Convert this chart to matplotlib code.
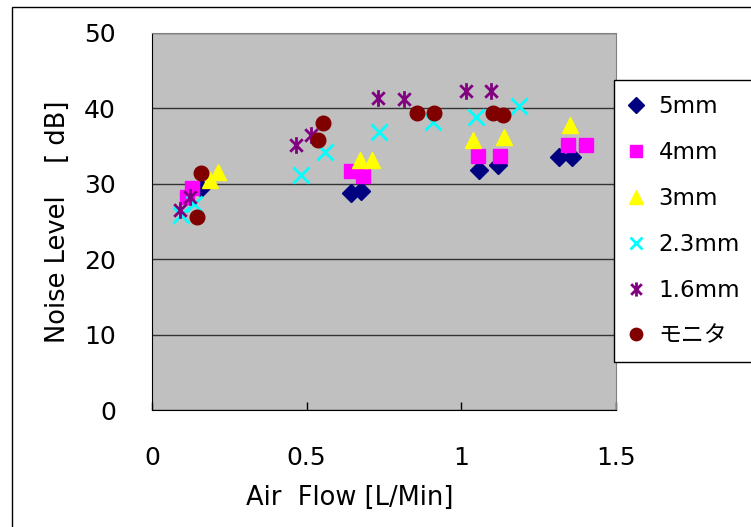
import numpy as np
import matplotlib.pyplot as plt
from matplotlib.path import Path
from matplotlib.patches import Rectangle

plt.rcParams['font.family'] = ['DejaVu Sans', 'Noto Sans CJK JP']

# 測定データ（流量 [L/Min], 騒音 [dB]）
flow_5mm = [0.160, 0.644, 0.676, 1.056, 1.120, 1.316, 1.359]
noise_5mm = [29.4, 28.8, 29.1, 31.8, 32.5, 33.6, 33.6]

flow_4mm = [0.112, 0.128, 0.644, 0.682, 1.053, 1.126, 1.346, 1.404]
noise_4mm = [28.3, 29.4, 31.7, 31.0, 33.7, 33.7, 35.1, 35.1]

flow_3mm = [0.187, 0.214, 0.671, 0.712, 1.039, 1.139, 1.352]
noise_3mm = [30.5, 31.6, 33.2, 33.2, 35.8, 36.2, 37.8]

flow_23mm = [0.095, 0.135, 0.483, 0.558, 0.735, 0.908, 1.047, 1.187]
noise_23mm = [25.8, 27.3, 31.2, 34.2, 36.9, 38.2, 38.9, 40.3]

flow_16mm = [0.090, 0.123, 0.467, 0.515, 0.729, 0.816, 1.015, 1.096]
noise_16mm = [26.5, 28.3, 35.2, 36.5, 41.4, 41.3, 42.3, 42.3]

flow_mon = [0.144, 0.160, 0.537, 0.553, 0.856, 0.913, 1.101, 1.135]
noise_mon = [25.6, 31.4, 35.8, 38.1, 39.4, 39.4, 39.4, 39.1]

labels = ['5mm', '4mm', '3mm', '2.3mm', '1.6mm', 'モニタ']

# 縦線＋斜め十字のアスタリスク
star = Path([(0, -1), (0, 1), (-0.75, -0.75), (0.75, 0.75), (-0.75, 0.75), (0.75, -0.75)],
            [Path.MOVETO, Path.LINETO, Path.MOVETO, Path.LINETO, Path.MOVETO, Path.LINETO])

fig = plt.figure(figsize=(7.51, 5.27), dpi=100)
fig.patches.append(Rectangle((12 / 751, -0.1), 1.2, 1 - 7 / 527 + 0.1, transform=fig.transFigure,
                             fill=False, edgecolor='black', linewidth=1))
ax = fig.add_axes([152 / 751, 1 - 410 / 527, 464 / 751, 377 / 527])
ax.set_facecolor('#C0C0C0')

ax.plot(flow_5mm, noise_5mm, 'D', color='#000080', ms=9, mec='#000080', label=labels[0])
ax.plot(flow_4mm, noise_4mm, 's', color='#FF00FF', ms=10, mec='#FF00FF', label=labels[1])
ax.plot(flow_3mm, noise_3mm, '^', color='#FFFF00', ms=12, mec='#FFFF00', label=labels[2])
ax.plot(flow_23mm, noise_23mm, 'x', color='#00FFFF', ms=11, mew=2, label=labels[3])
ax.plot(flow_16mm, noise_16mm, marker=star, ls='none', color='#800080', ms=12, mew=2, label=labels[4])
ax.plot(flow_mon, noise_mon, 'o', color='#800000', ms=10.5, mec='#800000', label=labels[5])

ax.set_xlim(0, 1.5)
ax.set_ylim(0, 50)
ax.set_xticks([0, 0.5, 1, 1.5])
ax.set_xticklabels(['0', '0.5', '1', '1.5'])
ax.set_yticks(range(0, 51, 10))
ax.yaxis.grid(True, color='#333333', linewidth=1)
ax.set_axisbelow(True)
ax.tick_params(axis='x', direction='in', length=6, width=1, pad=26, labelsize=18)
ax.tick_params(axis='y', length=0, pad=26, labelsize=18)
for side in ['left', 'bottom']:
    ax.spines[side].set_color('black')
for side in ['top', 'right']:
    ax.spines[side].set_color('#808080')

ax.set_xlabel('Air  Flow [L/Min]', fontsize=18.5)
ax.xaxis.set_label_coords(0.427, -0.2)
ax.set_ylabel('Noise Level    [ dB]', fontsize=18.5)
ax.yaxis.set_label_coords(-0.175, 0.5)

leg = ax.legend(loc='upper left', bbox_to_anchor=(614 / 751, 1 - 80 / 527),
                bbox_transform=fig.transFigure, fontsize=16.5, frameon=True, fancybox=False,
                edgecolor='black', framealpha=1, borderpad=0.65, labelspacing=1.0,
                handlelength=0.6, handletextpad=0.7, borderaxespad=0, markerscale=0.85)
leg.get_frame().set_linewidth(1)

fig.savefig('out.png', dpi=100)
